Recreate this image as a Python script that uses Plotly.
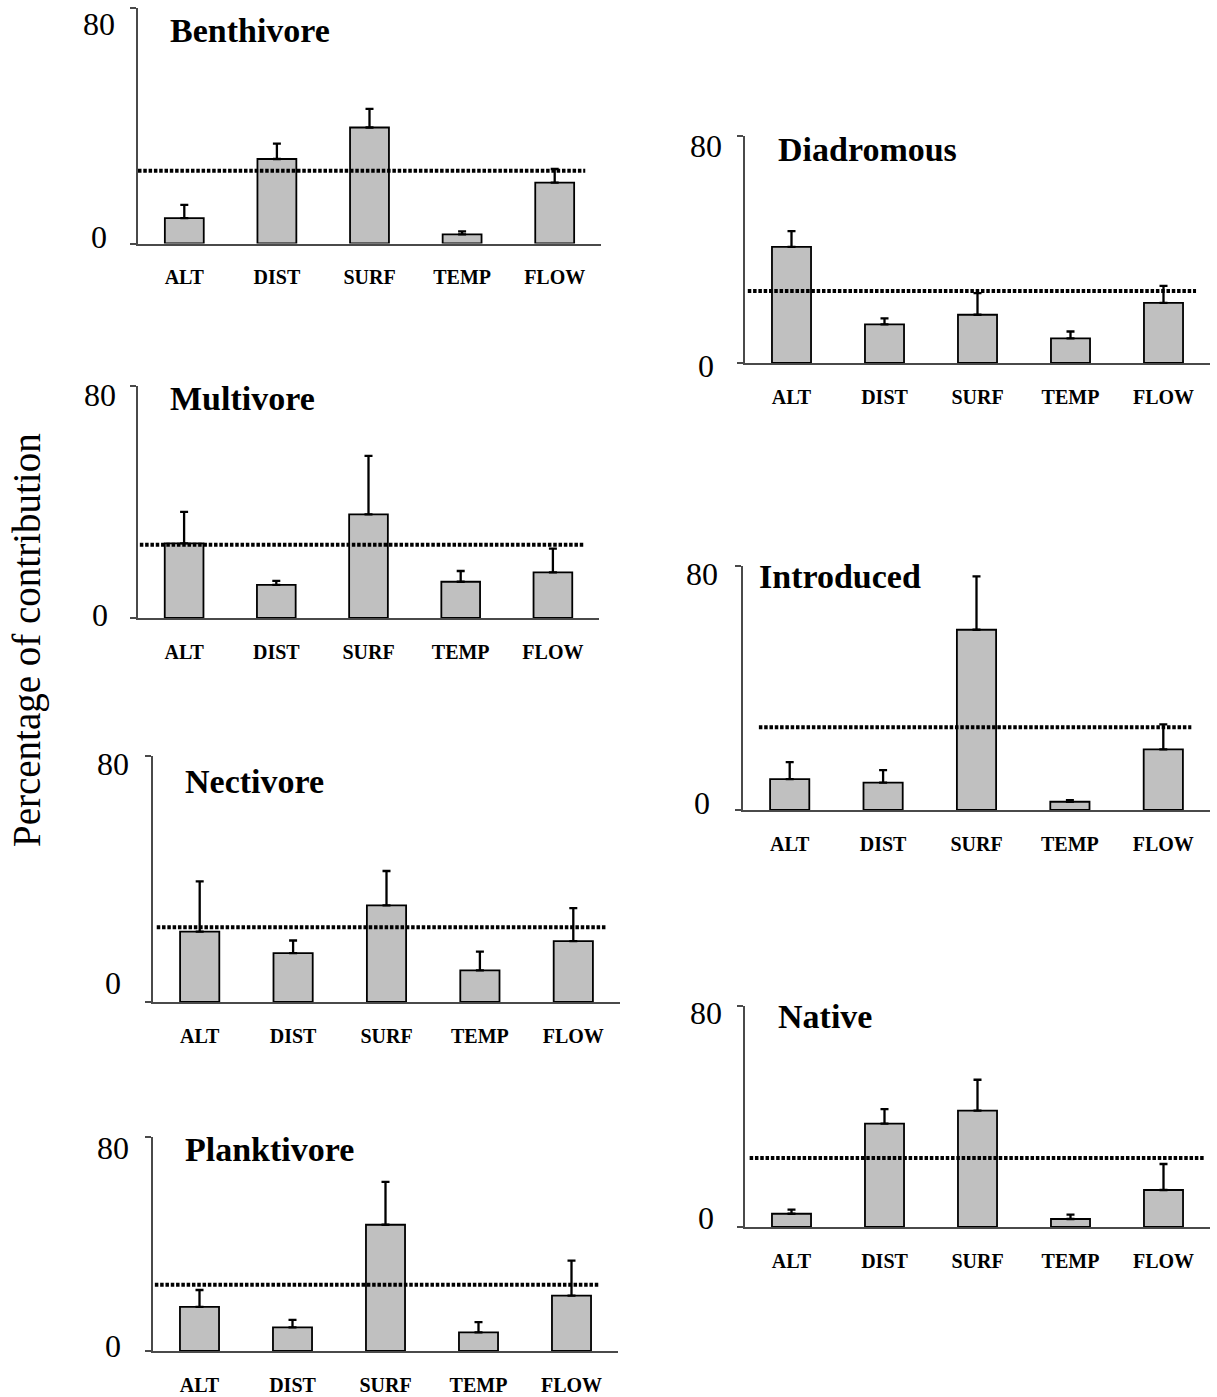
import plotly.graph_objects as go

W, H = 1217, 1397

# ---------------- data ----------------
categories = ["ALT", "DIST", "SURF", "TEMP", "FLOW"]

panel_names = ["Benthivore", "Diadromous", "Multivore", "Introduced",
               "Nectivore", "Planktivore", "Native"]

benthivore = [8.6, 28.7, 39.4, 3.1, 20.7]
benthivore_err = [4.5, 5.2, 6.3, 1.0, 4.6]

diadromous = [40.9, 13.6, 17.0, 8.7, 21.2]
diadromous_err = [5.6, 2.1, 7.6, 2.4, 6.0]

multivore = [25.7, 11.4, 35.7, 12.5, 15.7]
multivore_err = [10.9, 1.4, 20.2, 3.7, 8.2]

introduced = [10.1, 9.0, 59.1, 2.7, 19.9]
introduced_err = [5.6, 4.1, 17.5, 0.5, 8.2]

nectivore = [22.9, 15.9, 31.4, 10.3, 19.8]
nectivore_err = [16.3, 4.1, 11.2, 6.1, 10.7]

planktivore = [16.5, 8.8, 47.2, 7.0, 20.7]
planktivore_err = [6.3, 2.8, 16.0, 3.8, 13.1]

native = [4.8, 37.4, 42.1, 2.9, 13.4]
native_err = [1.5, 5.3, 11.2, 1.6, 9.4]

reference_levels = [24.7, 25.4, 25.3, 27.1, 24.3, 24.8, 25.0]

y_ticks = [0, 80]
y_tick_labels = ["0", "80"]

values = [benthivore, diadromous, multivore, introduced, nectivore, planktivore, native]
errors = [benthivore_err, diadromous_err, multivore_err, introduced_err,
          nectivore_err, planktivore_err, native_err]

# ---------------- layout (pixel boxes, styles) ----------------
# (left, right, top, baseline) of each plot area in pixels
boxes = [
    (138, 601, 8, 243.5),
    (745, 1210, 136, 363),
    (138, 599, 386, 618),
    (743, 1210, 566, 810),
    (153, 620, 756, 1002),
    (153, 618, 1137, 1351),
    (745, 1210, 1006, 1227),
]
# title position (left x, center y)
title_pos = [(168, 31), (776, 149), (168, 399), (757, 576),
             (183, 781), (183, 1149), (776, 1016)]
# y number labels: center x, center y of "80", center y of "0"
num_pos = [(99, 24, 237), (706, 146, 366), (99.5, 395, 615), (702, 574, 803),
           (113, 764, 983), (113, 1148, 1346), (706, 1013, 1218)]
# dotted reference line extent (data units along x)
line_extent = [(-0.5, 4.33), (-0.47, 4.35), (-0.48, 4.33), (-0.33, 4.3),
               (-0.46, 4.36), (-0.48, 4.3), (-0.45, 4.45)]

SERIF = "Liberation Serif, Times New Roman, serif"
AXIS_COLOR = "#4a4a4a"

xpos = list(range(len(categories)))

fig = go.Figure()
annotations = []
layout_axes = {}

for i in range(7):
    n = i + 1
    xa = "x" if n == 1 else f"x{n}"
    ya = "y" if n == 1 else f"y{n}"
    xkey = "xaxis" if n == 1 else f"xaxis{n}"
    ykey = "yaxis" if n == 1 else f"yaxis{n}"
    left, right, top, base = boxes[i]

    fig.add_trace(go.Bar(
        x=xpos, y=values[i], width=0.42,
        marker=dict(color="#c0c0c0", line=dict(color="black", width=1.8)),
        error_y=dict(type="data", symmetric=False, array=errors[i],
                     arrayminus=[0] * len(categories),
                     color="black", thickness=2.3, width=4),
        xaxis=xa, yaxis=ya, showlegend=False, hoverinfo="skip",
    ))
    x0, x1 = line_extent[i]
    fig.add_trace(go.Scatter(
        x=[x0, x1], y=[reference_levels[i]] * 2, mode="lines",
        line=dict(color="black", width=4, dash="3.5px,1.8px"),
        xaxis=xa, yaxis=ya, showlegend=False, hoverinfo="skip",
    ))

    layout_axes[xkey] = dict(
        domain=[left / W, right / W], anchor=ya, range=[-0.5, 4.5],
        showline=True, linecolor=AXIS_COLOR, linewidth=1.5,
        tickvals=xpos, ticktext=categories,
        ticks="outside", ticklen=15, tickcolor="rgba(0,0,0,0)",
        tickfont=dict(family=SERIF, size=20, color="black", weight="bold"),
        showgrid=False, zeroline=False, fixedrange=True,
    )
    layout_axes[ykey] = dict(
        domain=[1 - base / H, 1 - top / H], anchor=xa, range=[0, 80],
        showline=True, linecolor=AXIS_COLOR, linewidth=1.5,
        tickvals=y_ticks, ticks="outside", ticklen=6, tickwidth=1.5,
        tickcolor=AXIS_COLOR, showticklabels=False,
        showgrid=False, zeroline=False, fixedrange=True,
    )

    # panel title
    tx, ty = title_pos[i]
    annotations.append(dict(
        text=panel_names[i], xref="paper", yref="paper",
        x=tx / W, y=1 - ty / H, xanchor="left", yanchor="middle",
        showarrow=False,
        font=dict(family=SERIF, size=34, color="black", weight="bold"),
    ))
    # y number labels (offset like the original)
    cx, y80, y0 = num_pos[i]
    for val, lab, cy, ref_px in [(y_ticks[1], y_tick_labels[1], y80, top),
                                 (y_ticks[0], y_tick_labels[0], y0, base)]:
        annotations.append(dict(
            text=lab, xref="paper", yref=ya, x=cx / W, y=val,
            yshift=-(cy - ref_px), xanchor="center", yanchor="middle",
            showarrow=False,
            font=dict(family=SERIF, size=32, color="black"),
        ))

annotations.append(dict(
    text="Percentage of contribution", xref="paper", yref="paper",
    x=27 / W, y=1 - 640 / H, xanchor="center", yanchor="middle",
    textangle=-90, showarrow=False,
    font=dict(family=SERIF, size=39, color="black"),
))

fig.update_layout(
    width=W, height=H, margin=dict(l=0, r=0, t=0, b=0),
    paper_bgcolor="white", plot_bgcolor="white",
    annotations=annotations, bargap=0.58,
    **layout_axes,
)

fig.write_html("out.html", config={"displayModeBar": False},
               post_script="document.body.style.margin='0px';")
